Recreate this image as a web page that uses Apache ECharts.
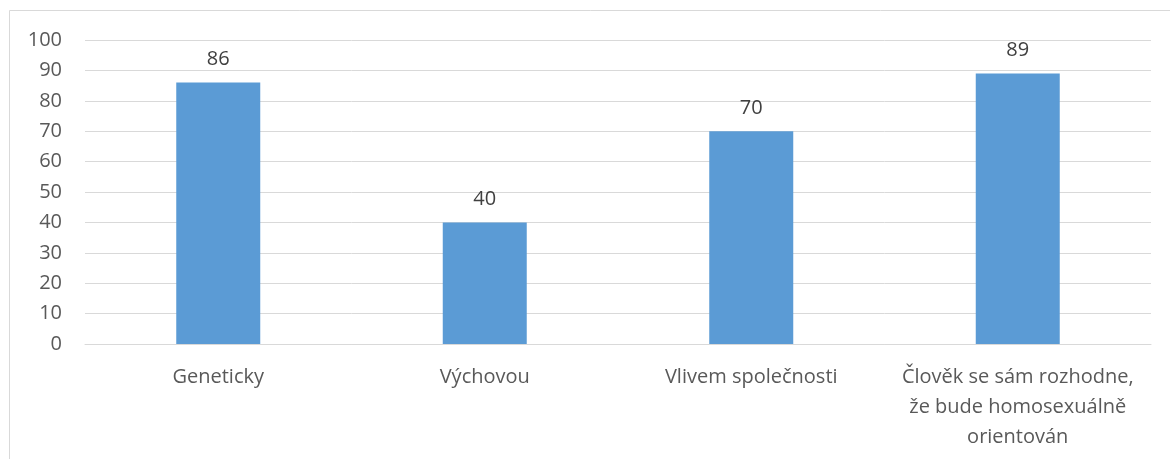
<!DOCTYPE html>
<html><head><meta charset="utf-8">
<script src="https://cdn.jsdelivr.net/npm/echarts@6/dist/echarts.min.js"></script>
<style>html,body{margin:0;padding:0;background:#fff}#c{width:1170px;height:459px}</style>
</head><body><div id="c"></div>
<script>
const categories = ['Geneticky', 'Výchovou', 'Vlivem společnosti', 'Člověk se sám rozhodne,\nže bude homosexuálně\norientován'];
const values = [86, 40, 70, 89];
const yTicks = {min: 0, max: 100, interval: 10};

const chart = echarts.init(document.getElementById('c'), null, {renderer: 'canvas'});
const font = '"Open Sans", "Noto Sans", sans-serif';
chart.setOption({
  animation: false,
  backgroundColor: '#fff',
  graphic: [{type: 'rect', shape: {x: 9.5, y: 10.5, width: 1200, height: 500}, style: {fill: 'none', stroke: '#d9d9d9', lineWidth: 1}}],
  grid: {left: 85, right: 19, top: 40, height: 304},
  xAxis: {
    type: 'category', data: categories,
    axisLine: {lineStyle: {color: '#d9d9d9', width: 1}},
    axisTick: {show: false},
    axisLabel: {color: '#595959', fontSize: 20, fontFamily: font, margin: 18, lineHeight: 30, interval: 0}
  },
  yAxis: {
    type: 'value', min: yTicks.min, max: yTicks.max, interval: yTicks.interval,
    axisLine: {show: false}, axisTick: {show: false},
    splitLine: {lineStyle: {color: '#d9d9d9', width: 1}},
    axisLabel: {color: '#595959', fontSize: 20, fontFamily: font, margin: 23}
  },
  series: [{
    type: 'bar', data: values, barWidth: 84,
    itemStyle: {color: '#5b9bd5'},
    label: {show: true, position: 'top', distance: 13, color: '#404040', fontSize: 20, fontFamily: font}
  }]
});
</script></body></html>
